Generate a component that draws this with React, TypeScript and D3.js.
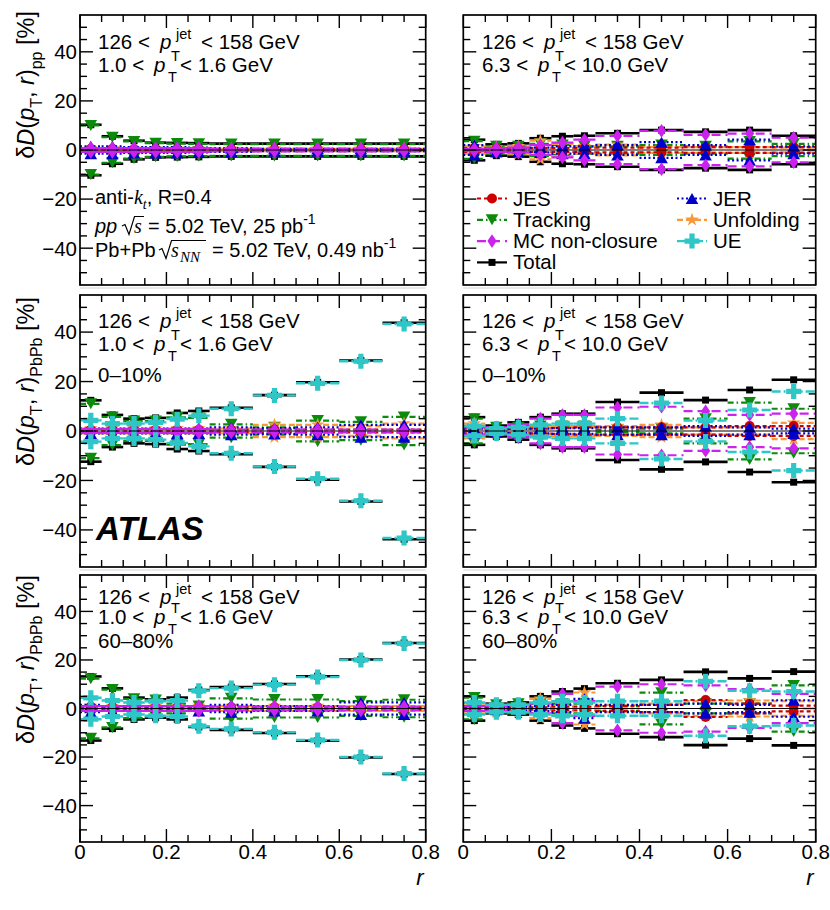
import React from 'react';
import * as d3 from 'd3';

// ---------------- data ----------------
const binEdges = [0, 0.05, 0.1, 0.15, 0.2, 0.25, 0.3, 0.4, 0.5, 0.6, 0.7, 0.8];
const xMajorTicks = [0, 0.2, 0.4, 0.6, 0.8];
const xTickLabels = ['0', '0.2', '0.4', '0.6', '0.8'];
const yMajorTicks = [-40, -20, 0, 20, 40];
const yTickLabels = ['\u221240', '\u221220', '0', '20', '40'];

// panel order: pp 1.0-1.6, pp 6.3-10, 0-10% 1.0-1.6, 0-10% 6.3-10, 60-80% 1.0-1.6, 60-80% 6.3-10
const JES = [
  [0.5, 0.5, 0.4, 0.4, 0.4, 0.4, 0.3, 0.3, 0.3, 0.3, 0.3],
  [0.8, 0.6, 0.6, 0.8, 0.8, 0.8, 1.0, 1.0, 1.2, 1.2, 1.2],
  [0.5, 0.5, 0.5, 0.5, 0.5, 0.5, 0.5, 0.6, 0.6, 0.6, 0.6],
  [1.0, 0.5, 0.8, 1.0, 1.2, 1.5, 1.5, 1.5, 1.5, 2.0, 2.0],
  [0.8, 0.6, 0.5, 0.5, 0.5, 0.5, 0.5, 0.5, 0.5, 0.5, 0.5],
  [0.5, 0.5, 0.5, 0.5, 0.8, 0.8, 1.0, 1.5, 3.5, 2.0, 1.2],
];
const JER = [
  [1.5, 1.5, 1.2, 1.2, 1.2, 1.0, 0.8, 0.5, 0.5, 0.5, 0.5],
  [2.0, 0.8, 0.8, 1.0, 1.5, 1.5, 2.0, 3.2, 2.0, 4.2, 1.5],
  [1.0, 1.0, 1.0, 1.0, 1.0, 1.0, 1.5, 1.2, 1.5, 2.5, 2.5],
  [1.0, 0.5, 0.8, 1.0, 1.2, 1.2, 1.5, 1.5, 2.0, 1.5, 1.0],
  [1.5, 1.0, 1.0, 1.0, 1.0, 1.0, 1.5, 1.0, 1.0, 2.5, 2.5],
  [1.0, 0.5, 0.8, 1.0, 1.5, 4.0, 1.5, 1.5, 2.0, 1.5, 3.4],
];
const Tracking = [
  [10.0, 5.2, 3.5, 2.8, 2.6, 2.5, 2.4, 2.4, 2.4, 2.4, 2.4],
  [3.6, 1.5, 1.5, 2.5, 2.0, 1.5, 1.5, 2.0, 1.5, 3.5, 2.5],
  [11.0, 5.7, 4.0, 4.0, 5.5, 5.3, 2.7, 1.5, 4.2, 3.7, 5.7],
  [5.0, 1.5, 1.5, 2.0, 2.0, 2.0, 0.5, 1.0, 5.0, 11.5, 9.0],
  [12.3, 7.8, 4.0, 3.5, 2.0, 1.0, 4.2, 3.7, 3.7, 3.0, 3.6],
  [4.5, 1.5, 2.0, 2.0, 2.0, 2.0, 1.0, 6.5, 2.0, 2.0, 9.5],
];
const Unfolding = [
  [0.6, 0.6, 0.5, 0.5, 0.5, 0.5, 0.5, 0.5, 0.5, 0.5, 0.5],
  [1.5, 1.0, 1.5, 3.8, 2.5, 1.5, 2.2, 1.2, 1.2, 1.2, 1.0],
  [1.0, 1.0, 1.0, 1.0, 1.0, 1.0, 1.0, 2.5, 2.5, 2.0, 3.0],
  [3.0, 1.0, 1.5, 1.5, 2.0, 2.0, 2.0, 2.5, 1.5, 1.5, 3.3],
  [1.0, 1.0, 1.0, 1.0, 1.0, 1.0, 1.0, 1.0, 1.0, 1.0, 1.0],
  [2.0, 1.5, 1.5, 4.0, 3.0, 6.6, 1.5, 2.0, 3.0, 3.3, 3.0],
];
const MCNonClosure = [
  [0.8, 0.8, 0.8, 0.8, 0.8, 0.8, 0.6, 0.6, 0.6, 0.6, 0.6],
  [0.5, 0.8, 1.0, 2.0, 3.0, 4.2, 5.7, 7.8, 6.2, 6.7, 5.0],
  [0.8, 0.8, 0.8, 0.8, 0.8, 0.8, 0.6, 0.6, 0.6, 0.6, 0.6],
  [1.5, 1.5, 2.5, 5.0, 6.5, 6.5, 9.5, 9.8, 8.0, 6.5, 7.0],
  [1.0, 1.0, 1.0, 1.0, 1.0, 1.0, 0.8, 0.8, 0.8, 0.8, 0.8],
  [1.0, 1.0, 1.5, 2.0, 6.0, 3.0, 9.0, 10.0, 9.5, 8.0, 6.0],
];
const UE: (number[] | null)[] = [
  null,
  null,
  [4.3, 3.0, 3.0, 3.5, 4.8, 6.2, 9.0, 14.4, 19.3, 28.2, 43.3],
  [2.0, 1.0, 1.5, 2.5, 3.0, 3.0, 5.0, 11.3, 4.2, 8.5, 16.0],
  [4.4, 3.3, 2.5, 3.0, 3.3, 7.3, 8.4, 9.8, 13.0, 20.0, 26.8],
  [2.5, 1.5, 1.5, 2.5, 3.0, 2.5, 3.0, 3.0, 11.2, 7.3, 7.0],
];
const Total = [
  [10.3, 5.6, 3.8, 3.0, 2.9, 2.8, 2.6, 2.6, 2.6, 2.6, 2.6],
  [4.2, 2.3, 2.7, 4.8, 5.6, 5.8, 6.8, 8.1, 7.4, 8.1, 5.8],
  [12.4, 6.5, 5.0, 5.3, 7.3, 8.1, 9.4, 14.5, 19.7, 28.5, 43.8],
  [5.6, 2.2, 3.5, 5.6, 7.0, 7.0, 11.7, 15.5, 12.5, 16.6, 20.7],
  [13.2, 8.3, 4.5, 3.8, 4.5, 7.6, 8.8, 10.1, 13.3, 20.2, 27.0],
  [5.0, 2.0, 2.5, 5.0, 7.0, 8.2, 10.4, 11.8, 15.1, 12.4, 15.2],
];

const drawOrder = ['Total', 'Tracking', 'Unfolding', 'JES', 'JER', 'MC non-closure', 'UE'];
const legendCol1 = ['JES', 'Tracking', 'MC non-closure', 'Total'];
const legendCol2 = ['JER', 'Unfolding', 'UE'];
const centralityLabels = ['', '0\u201310%', '60\u201380%'];
const yTitleSubs = ['pp', 'PbPb', 'PbPb'];
const trackPtRanges = [['1.0', '1.6'], ['6.3', '10.0']];

const seriesData: Record<string, (number[] | null)[]> = {
  JES, JER, Tracking, Unfolding, 'MC non-closure': MCNonClosure, UE, Total,
};

// ---------------- styles ----------------
const styles: Record<string, { color: string; dash: string; marker: string; width: number }> = {
  Total: { color: '#000000', dash: '', marker: 'square', width: 2.6 },
  JES: { color: '#cc0000', dash: '4 3', marker: 'circle', width: 2.2 },
  JER: { color: '#0000cc', dash: '2 2.5', marker: 'triUp', width: 2.2 },
  Tracking: { color: '#0b8a0b', dash: '6 3 1.5 3', marker: 'triDown', width: 2.2 },
  Unfolding: { color: '#f7993a', dash: '6 3', marker: 'star', width: 2.2 },
  'MC non-closure': { color: '#cc22ee', dash: '9 5', marker: 'diamond', width: 2.2 },
  UE: { color: '#2ec6c6', dash: '9 3 2 3', marker: 'cross', width: 2.4 },
};

const markerPaths: Record<string, string> = {
  circle: d3.symbol().type(d3.symbolCircle).size(Math.PI * 25)() as string,
  square: 'M-3.5,-3.5H3.5V3.5H-3.5Z',
  triUp: 'M0,-5.5L6.3,5.5L-6.3,5.5Z',
  triDown: 'M0,5.5L6.3,-5.5L-6.3,-5.5Z',
  star: d3.symbol().type(d3.symbolStar).size(58)() as string,
  diamond: 'M0,-6.8L4.6,0L0,6.8L-4.6,0Z',
  cross: 'M-2.6,-7.5H2.6V-2.6H7.5V2.6H2.6V7.5H-2.6V2.6H-7.5V-2.6H-2.6Z',
};

const FONT = "'Liberation Sans', Arial, Helvetica, sans-serif";
const SERIF = "'Liberation Serif', 'DejaVu Serif', serif";

const rowsY = [
  { top: 15, bottom: 285 },
  { top: 295, bottom: 567 },
  { top: 575, bottom: 842 },
];
const colsX = [
  { left: 80, right: 425.7 },
  { left: 463.3, right: 815.7 },
];
const textOffsets = [
  [34, 57, 0],
  [33, 56, 87],
  [29, 49, 73],
];

function Marker({ kind, color, x, y }: { kind: string; color: string; x: number; y: number }) {
  return <path d={markerPaths[kind]} transform={`translate(${x},${y})`} fill={color} stroke="none" />;
}

function Panel({ row, col }: { row: number; col: number }) {
  const p = row * 2 + col;
  const { left, right } = colsX[col];
  const { top, bottom } = rowsY[row];
  const x = d3.scaleLinear().domain([0, 0.8]).range([left, right]);
  const y = d3.scaleLinear().domain([-55, 55]).range([bottom, top]);
  const xMinor = d3.range(0, 17).map((i) => i * 0.05).filter((_, i) => i % 4 !== 0);
  const yMinor = d3.range(-50, 51, 5).filter((v) => v % 20 !== 0);
  const bins = binEdges.slice(0, -1).map((e, i) => ({ lo: e, hi: binEdges[i + 1], c: (e + binEdges[i + 1]) / 2 }));
  const lx = col === 0 ? 98 : 482;
  const [o1, o2, o3] = textOffsets[row];
  const b1 = top + o1;
  const b2 = top + o2;
  const b3 = top + o3;
  const [ptLo, ptHi] = trackPtRanges[col];
  const MAJ = 13;
  const MIN = 7;
  const subDrop = row === 2 ? 9 : 12;

  return (
    <g>
      {row < 2 && <line x1={left} x2={right} y1={bottom + 3} y2={bottom + 3} stroke="#d4d4d4" strokeWidth={1.2} />}
      {drawOrder.map((name) => {
        const vals = seriesData[name][p];
        if (!vals) return null;
        const st = styles[name];
        return (
          <g key={name}>
            {bins.map((b, i) =>
              [1, -1].map((s) => (
                <line
                  key={`${i}_${s}`}
                  x1={x(b.lo)}
                  x2={x(b.hi)}
                  y1={y(s * vals[i])}
                  y2={y(s * vals[i])}
                  stroke={st.color}
                  strokeWidth={st.width}
                  strokeDasharray={st.dash || undefined}
                />
              ))
            )}
            {bins.map((b, i) =>
              [1, -1].map((s) => (
                <Marker key={`m${i}_${s}`} kind={st.marker} color={st.color} x={x(b.c)} y={y(s * vals[i])} />
              ))
            )}
          </g>
        );
      })}
      <line x1={left} x2={right} y1={y(0)} y2={y(0)} stroke="#000" strokeWidth={1.1} />
      <rect x={left} y={top} width={right - left} height={bottom - top} fill="none" stroke="#000" strokeWidth={1.7} />
      {yMajorTicks.map((v) => (
        <g key={`ym${v}`}>
          <line x1={left} x2={left + MAJ} y1={y(v)} y2={y(v)} stroke="#000" strokeWidth={1.4} />
          <line x1={right} x2={right - MAJ} y1={y(v)} y2={y(v)} stroke="#000" strokeWidth={1.4} />
        </g>
      ))}
      {yMinor.map((v) => (
        <g key={`yn${v}`}>
          <line x1={left} x2={left + MIN} y1={y(v)} y2={y(v)} stroke="#000" strokeWidth={1.4} />
          <line x1={right} x2={right - MIN} y1={y(v)} y2={y(v)} stroke="#000" strokeWidth={1.4} />
        </g>
      ))}
      {xMajorTicks.map((v) => (
        <g key={`xm${v}`}>
          <line x1={x(v)} x2={x(v)} y1={bottom} y2={bottom - MAJ} stroke="#000" strokeWidth={1.4} />
          <line x1={x(v)} x2={x(v)} y1={top} y2={top + MAJ} stroke="#000" strokeWidth={1.4} />
        </g>
      ))}
      {xMinor.map((v) => (
        <g key={`xn${v}`}>
          <line x1={x(v)} x2={x(v)} y1={bottom} y2={bottom - MIN} stroke="#000" strokeWidth={1.4} />
          <line x1={x(v)} x2={x(v)} y1={top} y2={top + MIN} stroke="#000" strokeWidth={1.4} />
        </g>
      ))}
      {col === 0 &&
        yMajorTicks.map((v, i) => (
          <text key={`yl${v}`} x={left - 3} y={y(v)} dy="0.36em" textAnchor="end" fontSize={20.5}>
            {yTickLabels[i]}
          </text>
        ))}
      {row === 2 &&
        xMajorTicks.map((v, i) => (
          <text key={`xl${v}`} x={x(v)} y={bottom + 17} textAnchor="middle" fontSize={20.5}>
            {xTickLabels[i]}
          </text>
        ))}
      {row === 2 && (
        <text x={right - 2} y={885} textAnchor="end" fontSize={22} fontStyle="italic">
          r
        </text>
      )}
      {col === 0 && (
        <text
          transform={`translate(34,${top + [-4, 2, 0][row]}) rotate(-90)`}
          textAnchor="end"
          fontSize={23.5}
          xmlSpace="preserve"
        >
          <tspan>{'\u03b4'}</tspan>
          <tspan fontStyle="italic">D</tspan>
          <tspan>(</tspan>
          <tspan fontStyle="italic">p</tspan>
          <tspan fontSize={16} dy={8}>T</tspan>
          <tspan dy={-8}>{', '}</tspan>
          <tspan fontStyle="italic">r</tspan>
          <tspan>)</tspan>
          <tspan fontSize={16} dy={8}>{yTitleSubs[row]}</tspan>
          <tspan dy={-8}>{' [%]'}</tspan>
        </text>
      )}
      <g fontSize={20.5}>
        <text x={lx} y={b1}>126 &lt;</text>
        <text x={lx + 62} y={b1} fontStyle="italic">p</text>
        <text x={lx + 73} y={b1 + subDrop} fontSize={14.5}>T</text>
        <text x={lx + 78} y={b1 - 10} fontSize={14.5}>jet</text>
        <text x={lx + 103} y={b1}>&lt; 158 GeV</text>
        <text x={lx} y={b2}>{`${ptLo} <`}</text>
        <text x={lx + 56} y={b2} fontStyle="italic">p</text>
        <text x={lx + 70} y={b2 + 10} fontSize={14.5}>T</text>
        <text x={lx + 82} y={b2}>{`< ${ptHi} GeV`}</text>
        {row > 0 && (
          <text x={lx} y={b3}>
            {centralityLabels[row]}
          </text>
        )}
      </g>
    </g>
  );
}

function LegendEntry({ name, x0, yc }: { name: string; x0: number; yc: number }) {
  const st = styles[name];
  return (
    <g>
      <line x1={x0} x2={x0 + 30} y1={yc} y2={yc} stroke={st.color} strokeWidth={2.2} strokeDasharray={st.dash || undefined} />
      <Marker kind={st.marker} color={st.color} x={x0 + 15} y={yc} />
      <text x={x0 + 36} y={yc + 7} fontSize={20.5}>
        {name}
      </text>
    </g>
  );
}

export default function App() {
  const legendRows = [198.5, 219.8, 241.1, 262.4];
  return (
    <svg
      width={830}
      height={910}
      viewBox="0 0 830 910"
      style={{ position: 'absolute', left: 0, top: 0, background: '#fff' }}
      fontFamily={FONT}
    >
      <rect x={0} y={0} width={830} height={910} fill="#fff" />
      {[0, 1, 2].map((r) => [0, 1].map((c) => <Panel key={`${r}${c}`} row={r} col={c} />))}

      {legendCol1.map((n, i) => (
        <LegendEntry key={n} name={n} x0={477} yc={legendRows[i]} />
      ))}
      {legendCol2.map((n, i) => (
        <LegendEntry key={n} name={n} x0={677} yc={legendRows[i]} />
      ))}

      <g fontSize={20}>
        <text x={95} y={204} xmlSpace="preserve">
          <tspan>anti-</tspan>
          <tspan fontFamily={SERIF} fontStyle="italic">k</tspan>
          <tspan fontFamily={SERIF} fontStyle="italic" fontSize={14} dy={5}>t</tspan>
          <tspan dy={-5}>{', R=0.4'}</tspan>
        </text>
        <text x={95} y={233} fontStyle="italic">pp</text>
        <path d="M122,226 L125,224.5 L129,234.5 L134.5,216.5 L144,216.5" fill="none" stroke="#000" strokeWidth={1.2} />
        <text x={134} y={233} fontFamily={SERIF} fontStyle="italic">s</text>
        <text x={148} y={233} xmlSpace="preserve">
          <tspan>= 5.02 TeV, 25 pb</tspan>
          <tspan fontSize={14} dy={-9}>-1</tspan>
        </text>
        <text x={95} y={257}>Pb+Pb</text>
        <path d="M159,250 L162,248.5 L166,258.5 L171.5,240.5 L206,240.5" fill="none" stroke="#000" strokeWidth={1.2} />
        <text x={171} y={257} fontFamily={SERIF} fontStyle="italic">s</text>
        <text x={180} y={262} fontFamily={SERIF} fontStyle="italic" fontSize={15}>NN</text>
        <text x={212} y={257} xmlSpace="preserve">
          <tspan>= 5.02 TeV, 0.49 nb</tspan>
          <tspan fontSize={14} dy={-9}>-1</tspan>
        </text>
      </g>

      <text x={96} y={540} fontSize={33} fontWeight="bold" fontStyle="italic">
        ATLAS
      </text>
    </svg>
  );
}
